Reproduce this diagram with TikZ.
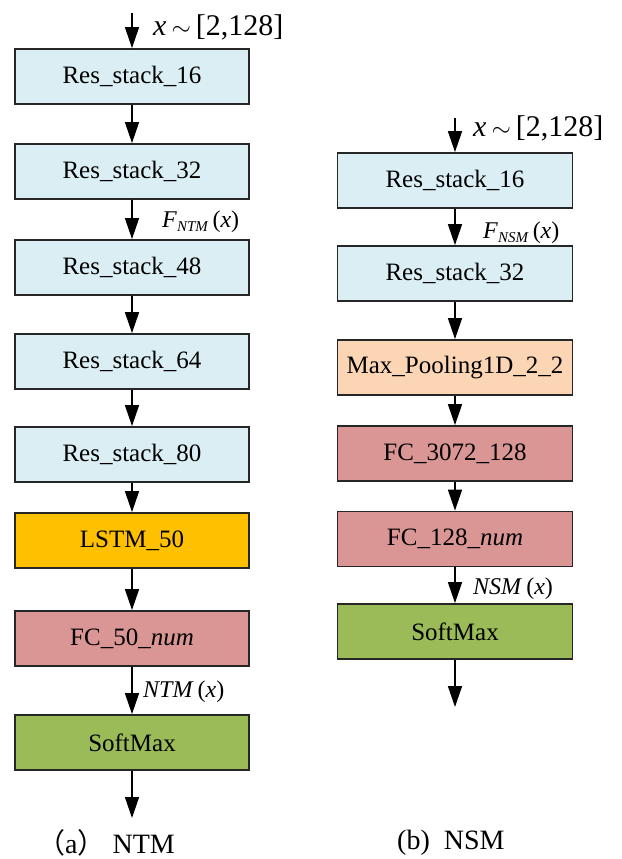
\documentclass[tikz,border=0pt]{standalone}
\usepackage{fontspec}
\setmainfont{Liberation Serif}
\newfontfamily\cjk{Noto Sans CJK SC}
\usetikzlibrary{arrows.meta}
\definecolor{resblue}{RGB}{218,238,243}
\definecolor{lstmorange}{RGB}{255,192,0}
\definecolor{fcred}{RGB}{217,150,148}
\definecolor{smgreen}{RGB}{155,187,89}
\definecolor{poolpeach}{RGB}{252,213,181}
\tikzset{
  blk/.style={draw=black!85, line width=1.8pt, minimum height=55pt, inner sep=0pt,
    font=\fontsize{25}{28}\selectfont},
  lblk/.style={blk, minimum width=234pt},
  rblk/.style={blk, minimum width=235pt},
  flow/.style={line width=1.5pt, -{Triangle[width=14pt,length=21pt]}},
  lab/.style={font=\fontsize{24}{28}\selectfont, inner sep=0pt},
  biglab/.style={font=\fontsize{30}{34}\selectfont, inner sep=0pt},
  captext/.style={font=\fontsize{28}{32}\selectfont, inner sep=0pt}
}
\begin{document}
\begin{tikzpicture}[x=1pt,y=-1pt]
\useasboundingbox (0,0) rectangle (621,859);
% left column (NTM)
\coordinate (lin) at (132,13);
\node[lblk, fill=resblue] (l1) at (132,76.5) {Res\_stack\_16};
\node[lblk, fill=resblue] (l2) at (132,171.5) {Res\_stack\_32};
\node[lblk, fill=resblue] (l3) at (132,267.5) {Res\_stack\_48};
\node[lblk, fill=resblue] (l4) at (132,361.5) {Res\_stack\_64};
\node[lblk, fill=resblue] (l5) at (132,454.5) {Res\_stack\_80};
\node[lblk, fill=lstmorange] (l6) at (132,540.5) {LSTM\_50};
\node[lblk, fill=fcred] (l7) at (132,638.5) {FC\_50\_\textit{num}};
\node[lblk, fill=smgreen] (l8) at (132,742.5) {SoftMax};
\coordinate (lout) at (132,818);
\draw[flow] (lin) -- (l1);
\draw[flow] (l1) -- (l2);
\draw[flow] (l2) -- (l3);
\draw[flow] (l3) -- (l4);
\draw[flow] (l4) -- (l5);
\draw[flow] (l5) -- (l6);
\draw[flow] (l6) -- (l7);
\draw[flow] (l7) -- (l8);
\draw[flow] (l8) -- (lout);
\node[biglab, anchor=west] (lx) at (153,27) {\textit{x}\,$\sim$\,[2,128]};
\node[lab, anchor=west] (lf) at (162,222) {\textit{F}\raisebox{-0.35ex}{\fontsize{15}{16}\selectfont\textit{NTM}}\,(\textit{x})};
\node[lab, anchor=west] (ln) at (143,692) {\textit{NTM}\,(\textit{x})};
\node[captext, anchor=west] (lcap) at (37,843) {{\cjk （}a{\cjk ）} NTM};
% right column (NSM)
\coordinate (rin) at (455,118);
\node[rblk, fill=resblue] (r1) at (455,180.5) {Res\_stack\_16};
\node[rblk, fill=resblue] (r2) at (455,273.5) {Res\_stack\_32};
\node[rblk, fill=poolpeach] (r3) at (455,367.5) {Max\_Pooling1D\_2\_2};
\node[rblk, fill=fcred] (r4) at (455,453.5) {FC\_3072\_128};
\node[rblk, fill=fcred] (r5) at (455,539) {FC\_128\_\textit{num}};
\node[rblk, fill=smgreen] (r6) at (455,631.5) {SoftMax};
\coordinate (rout) at (455,707);
\draw[flow] (rin) -- (r1);
\draw[flow] (r1) -- (r2);
\draw[flow] (r2) -- (r3);
\draw[flow] (r3) -- (r4);
\draw[flow] (r4) -- (r5);
\draw[flow] (r5) -- (r6);
\draw[flow] (r6) -- (rout);
\node[biglab, anchor=west] (rx) at (473,128) {\textit{x}\,$\sim$\,[2,128]};
\node[lab, anchor=west] (rf) at (483,233) {\textit{F}\raisebox{-0.35ex}{\fontsize{15}{16}\selectfont\textit{NSM}}\,(\textit{x})};
\node[lab, anchor=west] (rn) at (473,589) {\textit{NSM}\,(\textit{x})};
\node[captext, anchor=west] (rcap) at (397,843) {(b)\ \ NSM};
\end{tikzpicture}
\end{document}
